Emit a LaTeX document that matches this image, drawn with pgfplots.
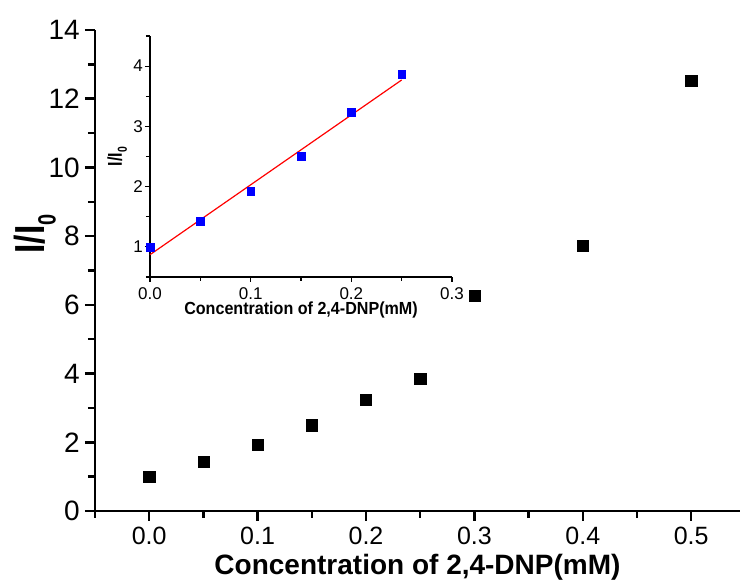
\documentclass[border=0pt]{standalone}
\usepackage{pgfplots}
\pgfplotsset{compat=1.18}
\usepackage{fontspec}
\setmainfont{Liberation Sans}
\pgfplotsset{/pgf/number format/assume math mode=true}
\begin{document}
\begin{tikzpicture}
\useasboundingbox (-95pt,-74pt) rectangle (647pt,511pt);
\begin{axis}[
  name=main,
  at={(0pt,0pt)}, anchor=south west,
  scale only axis, width=645pt, height=481pt,
  xmin=-0.05, xmax=0.545, ymin=0, ymax=14,
  axis lines=left,
  axis line style={-, line width=2.5pt},
  xtick={0,0.1,0.2,0.3,0.4,0.5},
  minor xtick={-0.05,0.05,0.15,0.25,0.35,0.45},
  ytick={0,2,4,6,8,10,12,14},
  minor ytick={1,3,5,7,9,11,13},
  tick align=outside,
  major tick length=10pt, minor tick length=7pt,
  tick style={line width=2.5pt, black},
  xticklabel={\pgfmathprintnumber[fixed,fixed zerofill,precision=1]{\tick}},
  x tick label style={font=\fontsize{25}{25}\selectfont, inner sep=0pt, yshift=-6pt},
  y tick label style={font=\fontsize{28}{28}\selectfont, inner sep=0pt, xshift=-5pt},
  xlabel={\bfseries Concentration of 2,4-DNP(mM)},
  xlabel style={font=\fontsize{28}{28}\selectfont, at={(axis description cs:0.5,0)}, anchor=north, inner sep=0pt, yshift=-43pt},
  ylabel={\scalebox{0.8}[1]{\bfseries I/I\raisebox{-11pt}{\fontsize{25}{25}\selectfont 0}}},
  ylabel style={font=\fontsize{42}{42}\selectfont, at={(axis description cs:-0.093,0.576)}, anchor=center, inner sep=0pt},
  clip=false,
]
\addplot[only marks, mark=square*, mark size=5.6pt, black] coordinates {
  (0,1.0) (0.05,1.43) (0.1,1.92) (0.15,2.50) (0.2,3.23) (0.25,3.86)
  (0.3,6.27) (0.4,7.71) (0.5,12.52)
};
\end{axis}
\begin{axis}[
  at={(55pt,234pt)}, anchor=south west,
  scale only axis, width=302pt, height=241pt,
  xmin=0, xmax=0.3, ymin=0.5, ymax=4.5,
  axis lines=left,
  axis line style={-, line width=1.2pt},
  xtick={0,0.1,0.2,0.3},
  minor xtick={0.05,0.15,0.25},
  ytick={1,2,3,4},
  minor ytick={0.5,1.5,2.5,3.5,4.5},
  tick align=outside,
  major tick length=5pt, minor tick length=4pt,
  tick style={line width=1.1pt, black},
  xticklabel={\pgfmathprintnumber[fixed,fixed zerofill,precision=1]{\tick}},
  x tick label style={font=\fontsize{17}{17}\selectfont, inner sep=0pt, yshift=-5pt},
  y tick label style={font=\fontsize{17}{17}\selectfont, inner sep=0pt, xshift=-2pt},
  xlabel={\scalebox{0.92}[1]{\bfseries Concentration of 2,4-DNP(mM)}},
  xlabel style={font=\fontsize{17.5}{17.5}\selectfont, at={(axis description cs:0.5,0)}, anchor=north, inner sep=0pt, yshift=-25pt},
  ylabel={\scalebox{0.8}[1]{\bfseries I/I\raisebox{-5pt}{\fontsize{13}{13}\selectfont 0}}},
  ylabel style={font=\fontsize{20}{20}\selectfont, at={(axis description cs:-0.109,0.5)}, anchor=center, inner sep=0pt},
  clip=false,
]
\addplot[red, line width=1.2pt] coordinates {(0,0.87) (0.25,3.77)};
\addplot[only marks, mark=square*, mark size=3.9pt, blue] coordinates {
  (0,1.0) (0.05,1.43) (0.1,1.92) (0.15,2.50) (0.2,3.23) (0.25,3.86)
};
\end{axis}
\end{tikzpicture}
\end{document}
